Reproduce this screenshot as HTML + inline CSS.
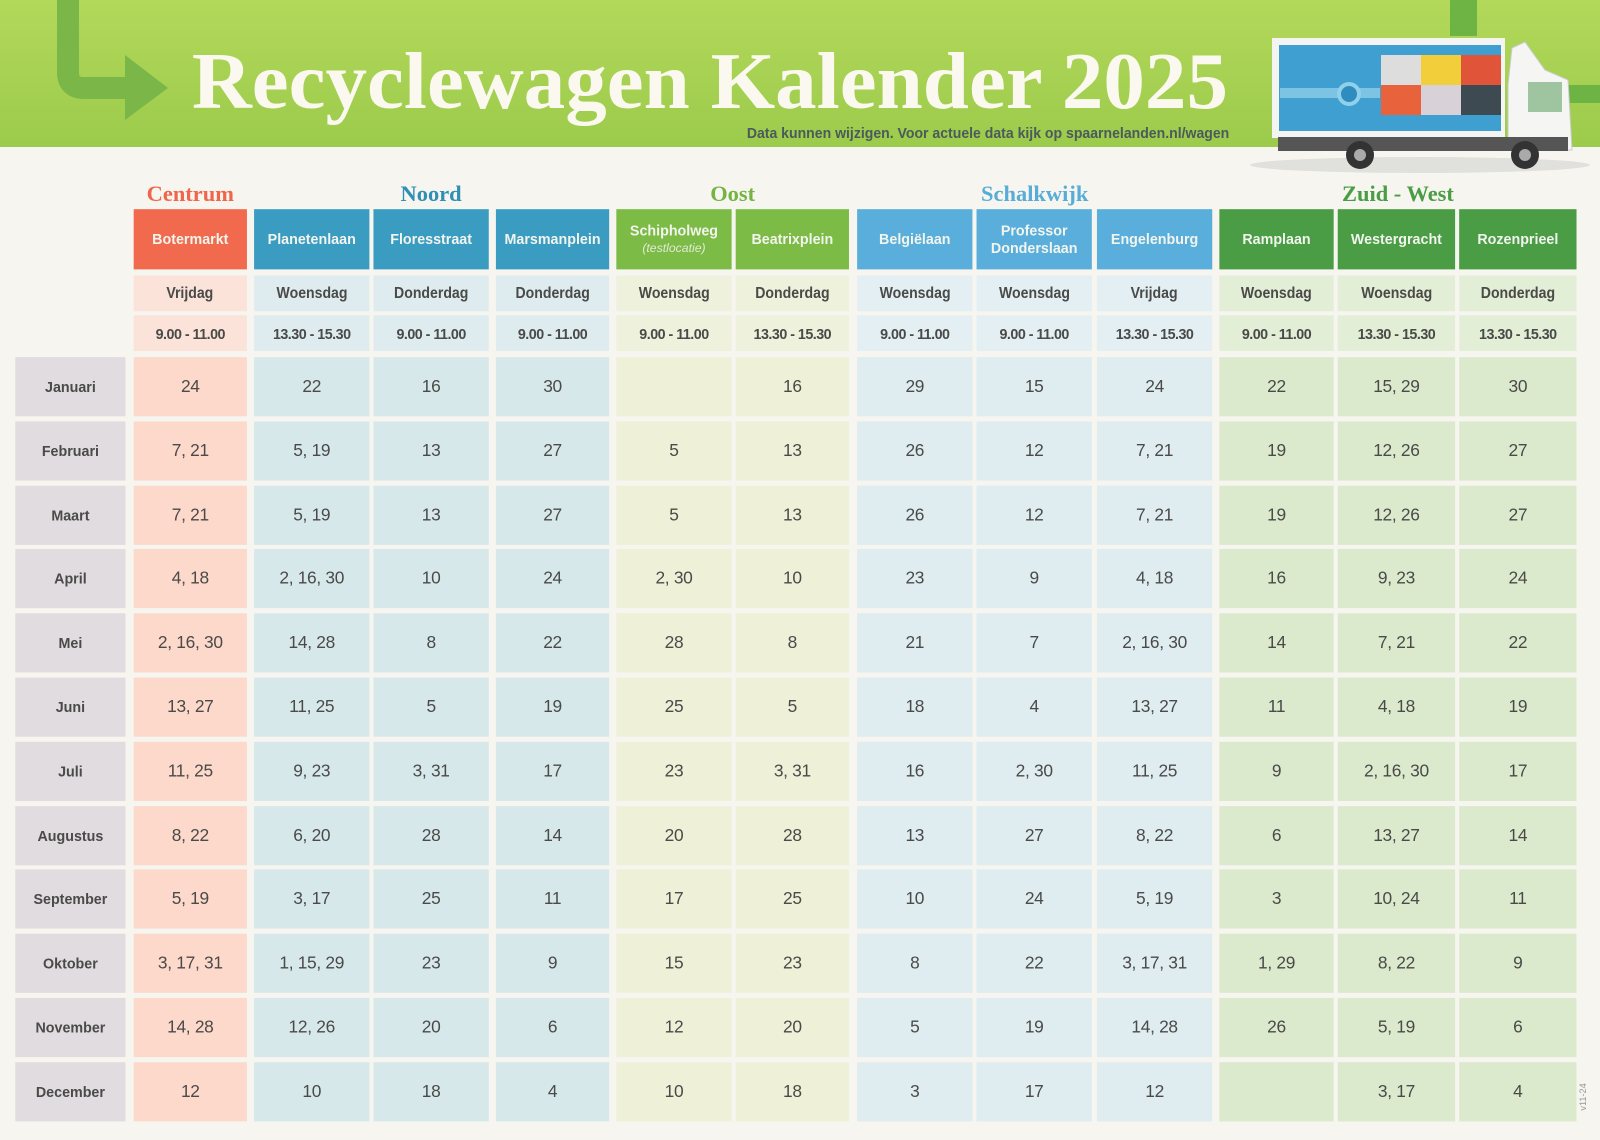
<!DOCTYPE html>
<html><head><meta charset="utf-8">
<style>
*{margin:0;padding:0;box-sizing:border-box}
body{width:1600px;height:1139px;background:#f7f5ef;position:relative;overflow:hidden;font-family:"Liberation Sans",sans-serif;color:#4a4a48}
.hdr{position:absolute;left:0;top:0;width:1600px;height:147px;background:linear-gradient(#b3d85a,#9ccb4c)}
#w{position:absolute;left:0;top:0;width:1568px;height:1117px;transform:scale(1.0204);transform-origin:0 0}
.title{position:absolute;left:188px;top:41px;font-family:"Liberation Serif",serif;font-weight:bold;font-size:79px;line-height:1;color:#fbf9ef;white-space:nowrap;transform:scaleX(1.03);transform-origin:0 0}
.sub{position:absolute;right:363px;top:123px;font-size:14.5px;font-weight:bold;color:#4b5a5a;white-space:nowrap;transform:scaleX(0.95);transform-origin:100% 0}
.grp{position:absolute;top:177px;font-family:"Liberation Serif",serif;font-weight:bold;font-size:22px;text-align:center}
.r{position:absolute;left:0;width:1568px}
.r>div{position:absolute;top:0;height:100%;display:flex;align-items:center;justify-content:center;text-align:center;font-weight:bold}
.r>div:nth-child(1){left:15px;width:108px}
.r>div:nth-child(2){left:131px;width:111px}
.r>div:nth-child(3){left:249px;width:113px}
.r>div:nth-child(4){left:366px;width:113px}
.r>div:nth-child(5){left:486px;width:111px}
.r>div:nth-child(6){left:604px;width:113px}
.r>div:nth-child(7){left:721px;width:111px}
.r>div:nth-child(8){left:840px;width:113px}
.r>div:nth-child(9){left:957px;width:113px}
.r>div:nth-child(10){left:1075px;width:113px}
.r>div:nth-child(11){left:1195px;width:112px}
.r>div:nth-child(12){left:1311px;width:115px}
.r>div:nth-child(13){left:1430px;width:115px}
.h{top:205px;height:59px}
.h>div{color:#f2f4ee;font-size:14px;line-height:17px}
.h>div:nth-child(2){background:#f26a4e}
.h>div:nth-child(3),.h>div:nth-child(4),.h>div:nth-child(5){background:#3b9cc2}
.h>div:nth-child(6),.h>div:nth-child(7){background:#7cbb45}
.h>div:nth-child(8),.h>div:nth-child(9),.h>div:nth-child(10){background:#5aaedb}
.h>div:nth-child(11),.h>div:nth-child(12),.h>div:nth-child(13){background:#4a9d44}
.d{height:35px}
.d>div{font-size:15px}
.d>div span{display:inline-block;transform:scaleX(0.92)}
.d>div:nth-child(2){background:#fbe3da}
.d>div:nth-child(3),.d>div:nth-child(4),.d>div:nth-child(5){background:#dfecef}
.d>div:nth-child(6),.d>div:nth-child(7){background:#eef2dc}
.d>div:nth-child(8),.d>div:nth-child(9),.d>div:nth-child(10){background:#e3eff2}
.d>div:nth-child(11),.d>div:nth-child(12),.d>div:nth-child(13){background:#e2eed6}
.t>div{font-size:14px;letter-spacing:-0.5px}
.m{height:58px}
.m>div{font-size:17px;font-weight:normal;color:#4a4a48;letter-spacing:-0.3px}
.m>div:nth-child(1){background:#e1dce0;font-size:14px;font-weight:bold;letter-spacing:0}
.m>div:nth-child(2){background:#fdd9cb}
.m>div:nth-child(3),.m>div:nth-child(4),.m>div:nth-child(5){background:#d7e8eb}
.m>div:nth-child(6),.m>div:nth-child(7){background:#eef1d8}
.m>div:nth-child(8),.m>div:nth-child(9),.m>div:nth-child(10){background:#dfecf0}
.m>div:nth-child(11),.m>div:nth-child(12),.m>div:nth-child(13){background:#dbeacd}
</style></head><body>
<div class="hdr"></div>
<svg style="position:absolute;left:0;top:0" width="1600" height="180">
<path d="M68 0 V72 Q68 88 84 88 H130" stroke="#7ab648" stroke-width="22" fill="none"/><polygon points="125,55 168,88 125,120" fill="#7ab648"/>
<rect x="1450" y="0" width="27" height="36" fill="#6db445"/><rect x="1560" y="85" width="40" height="18" fill="#6db445"/>
<ellipse cx="1420" cy="165" rx="170" ry="8" fill="#e0e0dc"/>
<rect x="1272" y="38" width="233" height="100" fill="#f4f4f2"/>
<rect x="1279" y="45" width="222" height="86" fill="#3f9fd0"/>
<rect x="1280" y="88" width="100" height="10" fill="#7cc3e4"/><circle cx="1349" cy="94" r="10" fill="#2f8cbf" stroke="#8fd0ea" stroke-width="4"/>
<rect x="1381" y="55" width="40" height="30" fill="#ddd"/><rect x="1421" y="55" width="40" height="30" fill="#f2cf3a"/><rect x="1461" y="55" width="40" height="30" fill="#e0553a"/>
<rect x="1381" y="85" width="40" height="30" fill="#e8623c"/><rect x="1421" y="85" width="40" height="30" fill="#d8d2d8"/><rect x="1461" y="85" width="40" height="30" fill="#3e4a52"/>
<path d="M1508 85 L1512 48 L1525 42 L1545 70 L1568 80 L1572 150 H1508 Z" fill="#f5f5f3" stroke="#ccc"/>
<rect x="1528" y="82" width="34" height="30" fill="#9fc5a0"/>
<rect x="1278" y="137" width="290" height="14" fill="#555"/>
<circle cx="1360" cy="155" r="14" fill="#333"/><circle cx="1360" cy="155" r="6" fill="#aaa"/>
<circle cx="1525" cy="155" r="14" fill="#333"/><circle cx="1525" cy="155" r="6" fill="#aaa"/>
</svg>
<div id="w">
<div class="title">Recyclewagen Kalender 2025</div>
<div class="sub">Data kunnen wijzigen. Voor actuele data kijk op spaarnelanden.nl/wagen</div>
<div class="grp" style="left:131px;width:111px;color:#f0664c">Centrum</div>
<div class="grp" style="left:366px;width:113px;color:#2f8fb5">Noord</div>
<div class="grp" style="left:604px;width:228px;color:#75b443">Oost</div>
<div class="grp" style="left:840px;width:348px;color:#58acd8">Schalkwijk</div>
<div class="grp" style="left:1195px;width:350px;color:#4a9d44">Zuid - West</div>

<div class="r h"><div></div><div>Botermarkt</div><div>Planetenlaan</div><div>Floresstraat</div><div>Marsmanplein</div><div style="flex-direction:column">Schipholweg<i style="font-weight:normal;font-size:12px;opacity:.85">(testlocatie)</i></div><div>Beatrixplein</div><div>Belgiëlaan</div><div>Professor<br>Donderslaan</div><div>Engelenburg</div><div>Ramplaan</div><div>Westergracht</div><div>Rozenprieel</div></div>
<div class="r d" style="top:270px"><div style="background:none"></div><div><span>Vrijdag</span></div><div><span>Woensdag</span></div><div><span>Donderdag</span></div><div><span>Donderdag</span></div><div><span>Woensdag</span></div><div><span>Donderdag</span></div><div><span>Woensdag</span></div><div><span>Woensdag</span></div><div><span>Vrijdag</span></div><div><span>Woensdag</span></div><div><span>Woensdag</span></div><div><span>Donderdag</span></div></div>
<div class="r d t" style="top:309px"><div style="background:none"></div><div>9.00 - 11.00</div><div>13.30 - 15.30</div><div>9.00 - 11.00</div><div>9.00 - 11.00</div><div>9.00 - 11.00</div><div>13.30 - 15.30</div><div>9.00 - 11.00</div><div>9.00 - 11.00</div><div>13.30 - 15.30</div><div>9.00 - 11.00</div><div>13.30 - 15.30</div><div>13.30 - 15.30</div></div>

<div class="r m" style="top:350px"><div>Januari</div><div>24</div><div>22</div><div>16</div><div>30</div><div></div><div>16</div><div>29</div><div>15</div><div>24</div><div>22</div><div>15, 29</div><div>30</div></div>
<div class="r m" style="top:413px"><div>Februari</div><div>7, 21</div><div>5, 19</div><div>13</div><div>27</div><div>5</div><div>13</div><div>26</div><div>12</div><div>7, 21</div><div>19</div><div>12, 26</div><div>27</div></div>
<div class="r m" style="top:476px"><div>Maart</div><div>7, 21</div><div>5, 19</div><div>13</div><div>27</div><div>5</div><div>13</div><div>26</div><div>12</div><div>7, 21</div><div>19</div><div>12, 26</div><div>27</div></div>
<div class="r m" style="top:538px"><div>April</div><div>4, 18</div><div>2, 16, 30</div><div>10</div><div>24</div><div>2, 30</div><div>10</div><div>23</div><div>9</div><div>4, 18</div><div>16</div><div>9, 23</div><div>24</div></div>
<div class="r m" style="top:601px"><div>Mei</div><div>2, 16, 30</div><div>14, 28</div><div>8</div><div>22</div><div>28</div><div>8</div><div>21</div><div>7</div><div>2, 16, 30</div><div>14</div><div>7, 21</div><div>22</div></div>
<div class="r m" style="top:664px"><div>Juni</div><div>13, 27</div><div>11, 25</div><div>5</div><div>19</div><div>25</div><div>5</div><div>18</div><div>4</div><div>13, 27</div><div>11</div><div>4, 18</div><div>19</div></div>
<div class="r m" style="top:727px"><div>Juli</div><div>11, 25</div><div>9, 23</div><div>3, 31</div><div>17</div><div>23</div><div>3, 31</div><div>16</div><div>2, 30</div><div>11, 25</div><div>9</div><div>2, 16, 30</div><div>17</div></div>
<div class="r m" style="top:790px"><div>Augustus</div><div>8, 22</div><div>6, 20</div><div>28</div><div>14</div><div>20</div><div>28</div><div>13</div><div>27</div><div>8, 22</div><div>6</div><div>13, 27</div><div>14</div></div>
<div class="r m" style="top:852px"><div>September</div><div>5, 19</div><div>3, 17</div><div>25</div><div>11</div><div>17</div><div>25</div><div>10</div><div>24</div><div>5, 19</div><div>3</div><div>10, 24</div><div>11</div></div>
<div class="r m" style="top:915px"><div>Oktober</div><div>3, 17, 31</div><div>1, 15, 29</div><div>23</div><div>9</div><div>15</div><div>23</div><div>8</div><div>22</div><div>3, 17, 31</div><div>1, 29</div><div>8, 22</div><div>9</div></div>
<div class="r m" style="top:978px"><div>November</div><div>14, 28</div><div>12, 26</div><div>20</div><div>6</div><div>12</div><div>20</div><div>5</div><div>19</div><div>14, 28</div><div>26</div><div>5, 19</div><div>6</div></div>
<div class="r m" style="top:1041px"><div>December</div><div>12</div><div>10</div><div>18</div><div>4</div><div>10</div><div>18</div><div>3</div><div>17</div><div>12</div><div></div><div>3, 17</div><div>4</div></div>
<div style="position:absolute;left:1538px;top:1070px;font-size:9px;color:#999;white-space:nowrap;transform:rotate(-90deg)">v11-24</div>
</div>
</body></html>
